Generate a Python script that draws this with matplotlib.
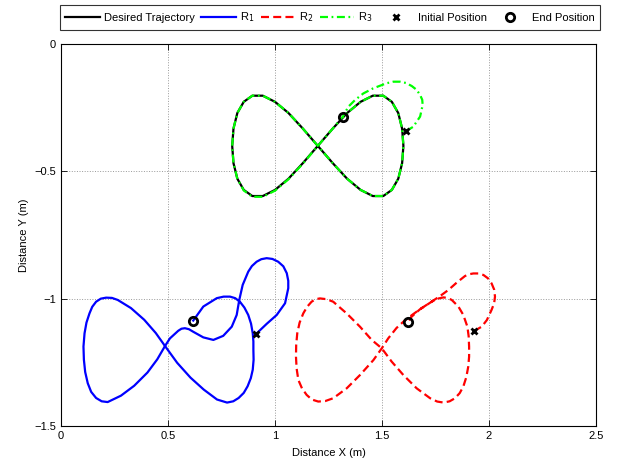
import matplotlib
matplotlib.use('Agg')
import matplotlib.pyplot as plt
from matplotlib.lines import Line2D
from matplotlib.ticker import FuncFormatter

plt.rcParams['font.family'] = ['Liberation Sans', 'DejaVu Sans']
plt.rcParams['font.size'] = 8

# desired figure-eight
des_x = [1.200, 1.270, 1.337, 1.400, 1.457, 1.506, 1.546, 1.576, 1.594, 1.600,
         1.594, 1.576, 1.546, 1.506, 1.457, 1.400, 1.337, 1.270, 1.200, 1.130,
         1.063, 1.000, 0.943, 0.894, 0.854, 0.824, 0.806, 0.800, 0.806, 0.824,
         0.854, 0.894, 0.943, 1.000, 1.063, 1.130, 1.200]
des_y = [-0.400, -0.332, -0.271, -0.227, -0.203, -0.203, -0.227, -0.271, -0.332, -0.400,
         -0.468, -0.529, -0.573, -0.597, -0.597, -0.573, -0.529, -0.468, -0.400, -0.332,
         -0.271, -0.227, -0.203, -0.203, -0.227, -0.271, -0.332, -0.400, -0.468, -0.529,
         -0.573, -0.597, -0.597, -0.573, -0.529, -0.468, -0.400]

# robot 1
r1_x = [0.911, 0.961, 1.008, 1.047, 1.062, 1.062, 1.055, 1.039, 1.015, 0.988,
        0.961, 0.936, 0.914, 0.892, 0.875, 0.849, 0.833, 0.821, 0.798, 0.758,
        0.712, 0.665, 0.618, 0.598, 0.579, 0.563, 0.548, 0.509, 0.486, 0.450,
        0.404, 0.342, 0.280, 0.218, 0.190, 0.164, 0.141, 0.125, 0.113, 0.107,
        0.105, 0.110, 0.119, 0.133, 0.146, 0.164, 0.186, 0.211, 0.238, 0.265,
        0.327, 0.389, 0.443, 0.486, 0.543, 0.605, 0.667, 0.729, 0.776, 0.805,
        0.830, 0.854, 0.872, 0.887, 0.896, 0.900, 0.899, 0.899, 0.896, 0.888,
        0.875, 0.857, 0.836, 0.814, 0.790, 0.760, 0.728, 0.665, 0.618]
r1_y = [-1.139, -1.099, -1.064, -1.018, -0.959, -0.930, -0.900, -0.873, -0.855, -0.844,
        -0.841, -0.845, -0.855, -0.872, -0.894, -0.946, -1.005, -1.064, -1.110, -1.146,
        -1.162, -1.152, -1.130, -1.120, -1.116, -1.118, -1.126, -1.156, -1.186, -1.238,
        -1.290, -1.342, -1.381, -1.406, -1.403, -1.390, -1.366, -1.332, -1.288, -1.240,
        -1.188, -1.136, -1.094, -1.058, -1.032, -1.012, -1.000, -0.996, -0.997, -1.005,
        -1.037, -1.083, -1.135, -1.186, -1.252, -1.310, -1.357, -1.396, -1.408, -1.403,
        -1.390, -1.370, -1.344, -1.312, -1.279, -1.240, -1.201, -1.168, -1.136, -1.098,
        -1.064, -1.035, -1.012, -0.998, -0.992, -0.992, -0.998, -1.031, -1.086]

# robot 2
r2_x = [1.930, 1.966, 1.990, 2.012, 2.024, 2.028, 2.024, 2.012, 1.995, 1.974,
        1.950, 1.927, 1.907, 1.888, 1.849, 1.810, 1.771, 1.724, 1.680, 1.647,
        1.607, 1.568, 1.529, 1.499, 1.460, 1.397, 1.335, 1.272, 1.235, 1.202,
        1.172, 1.148, 1.126, 1.109, 1.101, 1.098, 1.099, 1.104, 1.115, 1.132,
        1.150, 1.171, 1.190, 1.210, 1.241, 1.272, 1.335, 1.397, 1.452, 1.499,
        1.545, 1.600, 1.662, 1.725, 1.758, 1.788, 1.816, 1.841, 1.863, 1.880,
        1.894, 1.903, 1.907, 1.907, 1.905, 1.899, 1.880, 1.857, 1.826, 1.806,
        1.787, 1.760, 1.732, 1.677, 1.638, 1.623]
r2_y = [-1.127, -1.110, -1.084, -1.044, -1.018, -0.992, -0.964, -0.940, -0.920, -0.907,
        -0.901, -0.901, -0.904, -0.911, -0.937, -0.966, -0.990, -1.016, -1.040, -1.060,
        -1.085, -1.115, -1.156, -1.195, -1.241, -1.300, -1.352, -1.391, -1.402, -1.404,
        -1.396, -1.378, -1.352, -1.319, -1.274, -1.228, -1.182, -1.136, -1.094, -1.058,
        -1.032, -1.012, -1.002, -0.999, -1.002, -1.012, -1.058, -1.110, -1.162, -1.195,
        -1.247, -1.300, -1.352, -1.391, -1.404, -1.408, -1.403, -1.391, -1.371, -1.345,
        -1.308, -1.267, -1.228, -1.188, -1.148, -1.110, -1.064, -1.031, -1.005, -0.997,
        -0.995, -1.000, -1.012, -1.042, -1.071, -1.090]

# robot 3 (starts off the path, then follows it)
r3_x = [1.612, 1.646, 1.678, 1.690, 1.688, 1.678, 1.662, 1.639, 1.612, 1.584,
        1.553, 1.522, 1.459, 1.413, 1.374, 1.343, 1.317, 1.270, 1.200, 1.130,
        1.063, 1.000, 0.943, 0.894, 0.854, 0.824, 0.806, 0.800, 0.806, 0.824,
        0.854, 0.894, 0.943, 1.000, 1.063, 1.130, 1.200, 1.270, 1.337, 1.400,
        1.457, 1.506, 1.546, 1.576, 1.594, 1.600, 1.594, 1.576, 1.546, 1.506,
        1.457, 1.400, 1.337, 1.317]
r3_y = [-0.342, -0.325, -0.285, -0.240, -0.219, -0.200, -0.180, -0.165, -0.153, -0.148,
        -0.148, -0.154, -0.174, -0.194, -0.220, -0.246, -0.285, -0.332, -0.400, -0.470,
        -0.531, -0.576, -0.600, -0.600, -0.575, -0.529, -0.468, -0.400, -0.332, -0.271,
        -0.227, -0.203, -0.203, -0.227, -0.271, -0.332, -0.400, -0.468, -0.529, -0.573,
        -0.597, -0.597, -0.573, -0.529, -0.468, -0.400, -0.332, -0.271, -0.227, -0.203,
        -0.203, -0.227, -0.271, -0.288]

init_x = [0.911, 1.930, 1.612]
init_y = [-1.139, -1.127, -0.342]
end_x = [0.618, 1.623, 1.317]
end_y = [-1.086, -1.090, -0.285]

xticks = [0, 0.5, 1, 1.5, 2, 2.5]
yticks = [-1.5, -1, -0.5, 0]

fig = plt.figure(figsize=(6.2, 4.59), dpi=100)
ax = fig.add_axes([61 / 620, 1 - 426 / 459, 535 / 620, 382 / 459])

lw = 1.6
dash = (0, (3.6, 1.9))
dashdot = (0, (3.6, 1.6, 0.8, 1.6))
ax.plot(des_x, des_y, color='k', lw=lw, solid_joinstyle='round')
ax.plot(r1_x, r1_y, color='#0000ff', lw=lw, solid_joinstyle='round')
ax.plot(r2_x, r2_y, color='#ff0000', lw=lw, linestyle=dash)
ax.plot(r3_x, r3_y, color='#00ff00', lw=lw, linestyle=dashdot)
ax.plot(init_x, init_y, 'x', color='k', ms=4.5, mew=2)
ax.plot(end_x, end_y, 'o', color='k', mfc='none', ms=6, mew=2)

ax.set_xlim(0, 2.5)
ax.set_ylim(-1.5, 0)
ax.set_xticks(xticks)
ax.set_yticks(yticks)
fmt = FuncFormatter(lambda v, p: ('%g' % v).replace('-', '\u2212'))
ax.xaxis.set_major_formatter(fmt)
ax.yaxis.set_major_formatter(fmt)
ax.tick_params(direction='in', top=True, right=True, length=4, width=0.6, labelsize=8)
ax.grid(True, linestyle=':', color='0.6', lw=0.7)
for s in ax.spines.values():
    s.set_linewidth(0.8)
ax.set_xlabel('Distance X (m)', fontsize=8, labelpad=5)
ax.set_ylabel('Distance Y (m)', fontsize=8, labelpad=4)

handles = [
    Line2D([], [], color='k', lw=lw),
    Line2D([], [], color='#0000ff', lw=lw),
    Line2D([], [], color='#ff0000', lw=lw, linestyle=dash),
    Line2D([], [], color='#00ff00', lw=lw, linestyle=dashdot),
    Line2D([], [], color='k', marker='x', ls='none', ms=4.5, mew=2),
    Line2D([], [], color='k', marker='o', mfc='none', ls='none', ms=6, mew=2),
]
labels = ['Desired Trajectory', 'R$_1$', 'R$_2$', 'R$_3$', 'Initial Position', 'End Position']
leg = fig.legend(handles, labels, loc='center', bbox_to_anchor=(0.532, 0.962), ncol=6,
                 fontsize=8, frameon=True, fancybox=False, edgecolor='k',
                 handlelength=3.1, handletextpad=0.35, columnspacing=0.6,
                 borderpad=0.5, borderaxespad=0)
leg.get_frame().set_linewidth(0.8)

fig.savefig('out.png', dpi=100)
